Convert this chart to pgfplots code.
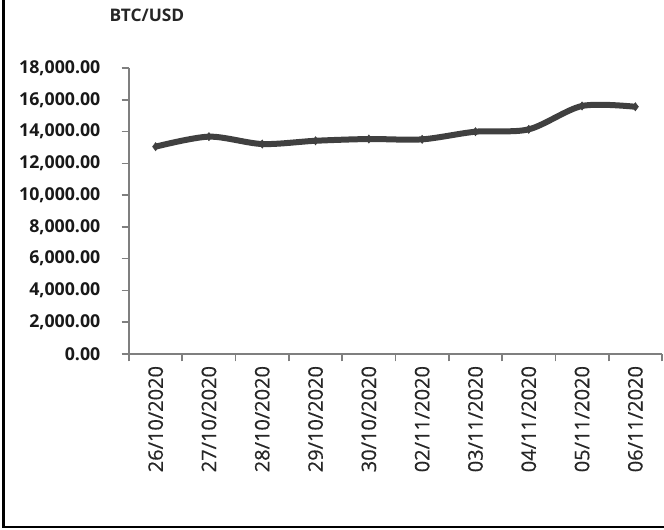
\documentclass[border=0pt]{standalone}
\usepackage{fontspec}
\setmainfont{Open Sans}
\newfontfamily\datefont[FakeBold=0.5]{Open Sans}
\usepackage{pgfplots}
\pgfplotsset{compat=1.18}
\definecolor{linegray}{HTML}{404040}
\definecolor{axgray}{HTML}{7F7F7F}
\begin{document}
\begin{tikzpicture}[x=0.75pt,y=0.75pt]
\useasboundingbox (0,0) rectangle (664,529);
\draw[line width=1.6pt,black] (3.5,529) -- (3.5,2) -- (664,2);
\node[font=\fontsize{13}{15}\selectfont\bfseries, text=black!85] at (147,514) {BTC/USD};
\begin{axis}[
  at={(96.75pt,131.25pt)}, anchor=south west,
  scale only axis, width=399.75pt, height=214.5pt,
  xmin=0, xmax=10, ymin=0, ymax=18000,
  axis x line=bottom, axis y line=left,
  axis line style={-, draw=axgray, line width=1.2pt},
  tick align=outside,
  xtick={0.5,1.5,...,9.5},
  xticklabels={26/10/2020,27/10/2020,28/10/2020,29/10/2020,30/10/2020,02/11/2020,03/11/2020,04/11/2020,05/11/2020,06/11/2020},
  major x tick style={draw=none},
  minor xtick={0,1,...,10},
  minor x tick style={draw=axgray, line width=1.2pt},
  minor tick length=5.5pt,
  ytick={0,2000,...,18000},
  y tick style={draw=axgray, line width=1.2pt},
  major tick length=5.5pt,
  x tick label style={rotate=90, anchor=east, font=\datefont\fontsize{15}{17}\selectfont, text=black!85},
  y tick label style={font=\fontsize{13.3}{15}\selectfont\bfseries, xshift=-12.5pt, text=black!90},
  yticklabel style={/pgf/number format/.cd, fixed, fixed zerofill, precision=2, 1000 sep={,}, assume math mode=true},
  scaled y ticks=false,
  clip=false,
]
\addplot[linegray, line width=4.5pt, smooth, tension=0.5, mark=diamond*, mark size=3pt, mark options={solid, line width=0.5pt}]
coordinates {(0.5,13050) (1.5,13680) (2.5,13215) (3.5,13420) (4.5,13530) (5.5,13510) (6.5,13990) (7.5,14140) (8.5,15610) (9.5,15560)};
\end{axis}
\end{tikzpicture}
\end{document}
